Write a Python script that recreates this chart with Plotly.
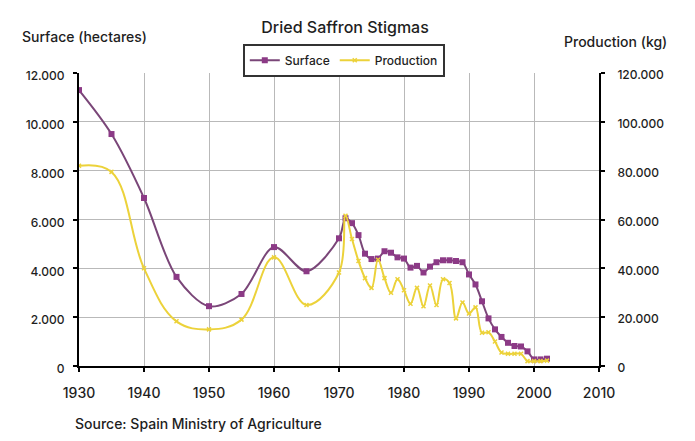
"""Dried saffron stigmas in Spain: cultivated surface vs production, 1930-2002."""

import plotly.graph_objects as go

YEARS = [
    1930, 1935, 1940, 1945, 1950, 1955, 1960, 1965,
    1970, 1971, 1972, 1973, 1974, 1975, 1976, 1977, 1978, 1979,
    1980, 1981, 1982, 1983, 1984, 1985, 1986, 1987, 1988, 1989,
    1990, 1991, 1992, 1993, 1994, 1995, 1996, 1997, 1998, 1999,
    2000, 2001, 2002,
]

# hectares
SURFACE = [
    11300, 9500, 6880, 3650, 2450, 2950, 4870, 3880,
    5230, 6050, 5850, 5360, 4600, 4380, 4400, 4700, 4640, 4450,
    4400, 4030, 4100, 3830, 4070, 4250, 4330, 4330, 4300, 4250,
    3750, 3340, 2650, 1950, 1500, 1190, 950, 820, 800, 600,
    270, 270, 300,
]

# kg
PRODUCTION = [
    82000, 79500, 40000, 18300, 15000, 19000, 44500, 25000,
    38300, 61500, 52000, 43000, 36000, 32000, 43500, 36000, 30000, 35500,
    31000, 25500, 32000, 24500, 33000, 25000, 35500, 34000, 19500, 26000,
    21500, 24000, 13600, 13800, 10000, 5500, 5000, 5000, 5000, 2000,
    2000, 2000, 2200,
]

X_TICKS = list(range(1930, 2011, 10))
LEFT_TICKS = list(range(0, 12001, 2000))
RIGHT_TICKS = list(range(0, 120001, 20000))

PURPLE_LINE = "#7a4678"
PURPLE_MARK = "#8c3a86"
YELLOW = "#ecd23a"
GRID = "#b9b9b9"
TEXT = "#1e1e1e"
FONT = "Inter, Roboto, Arial, sans-serif"
WEIGHT = 500


def _dotted(v: int) -> str:
    return f"{v:,}".replace(",", ".")


def _font(size: int) -> dict:
    return dict(family=FONT, size=size, color=TEXT, weight=WEIGHT)


fig = go.Figure()
fig.add_trace(go.Scatter(
    x=YEARS, y=SURFACE, name="Surface",
    mode="lines+markers",
    line=dict(color=PURPLE_LINE, width=2, shape="spline", smoothing=0.9),
    marker=dict(symbol="square", size=6, color=PURPLE_MARK),
))
fig.add_trace(go.Scatter(
    x=YEARS, y=PRODUCTION, name="Production", yaxis="y2",
    mode="lines+markers",
    line=dict(color=YELLOW, width=2, shape="spline", smoothing=1.1),
    marker=dict(symbol="x-thin", size=4, color=YELLOW, line=dict(color=YELLOW, width=1.5)),
))

_axis_common = dict(
    showline=True, linecolor="black", linewidth=2,
    ticks="outside", ticklen=4, tickcolor="black", tickwidth=1.5,
    zeroline=False,
)

# the page adds an 8px body margin, so the figure is placed 8px in from the top-left
fig.update_layout(
    width=695, height=441,
    margin=dict(l=71, r=104, t=65, b=83),
    plot_bgcolor="white", paper_bgcolor="white",
    font=dict(family=FONT, color=TEXT),
    title=dict(
        text="Dried Saffron Stigmas", x=0.485, y=0.955,
        xanchor="center", yanchor="middle",
        font=_font(16),
    ),
    xaxis=dict(
        range=[1930, 2010], tickvals=X_TICKS,
        showgrid=True, gridcolor=GRID, gridwidth=1,
        tickfont=_font(14), ticklabelstandoff=9,
        **_axis_common,
    ),
    yaxis=dict(
        range=[0, 12000], tickvals=LEFT_TICKS,
        ticktext=[_dotted(v) for v in LEFT_TICKS],
        showgrid=True, gridcolor=GRID, gridwidth=1,
        tickfont=_font(12), ticklabelstandoff=6, ticklabelshift=3,
        **_axis_common,
    ),
    yaxis2=dict(
        range=[0, 120000], tickvals=RIGHT_TICKS,
        ticktext=[_dotted(v) for v in RIGHT_TICKS],
        overlaying="y", side="right", showgrid=False,
        tickfont=_font(12), ticklabelstandoff=10, ticklabelshift=2,
        **_axis_common,
    ),
    legend=dict(
        orientation="h", x=0.315, y=1.1, xanchor="left", yanchor="top",
        bordercolor="#333333", borderwidth=2, bgcolor="white",
        font=_font(12),
        itemwidth=30, tracegroupgap=0,
    ),
    annotations=[
        dict(text="Surface (hectares)", xref="paper", yref="paper",
             x=-0.113, y=1.126, xanchor="left", yanchor="middle",
             showarrow=False, font=_font(14)),
        dict(text="Production (kg)", xref="paper", yref="paper",
             x=1.135, y=1.109, xanchor="right", yanchor="middle",
             showarrow=False, font=_font(14)),
        dict(text="Source: Spain Ministry of Agriculture", xref="paper", yref="paper",
             x=-0.012, y=-0.195, xanchor="left", yanchor="middle",
             showarrow=False, font=_font(14)),
    ],
)

fig.write_html("out.html")
